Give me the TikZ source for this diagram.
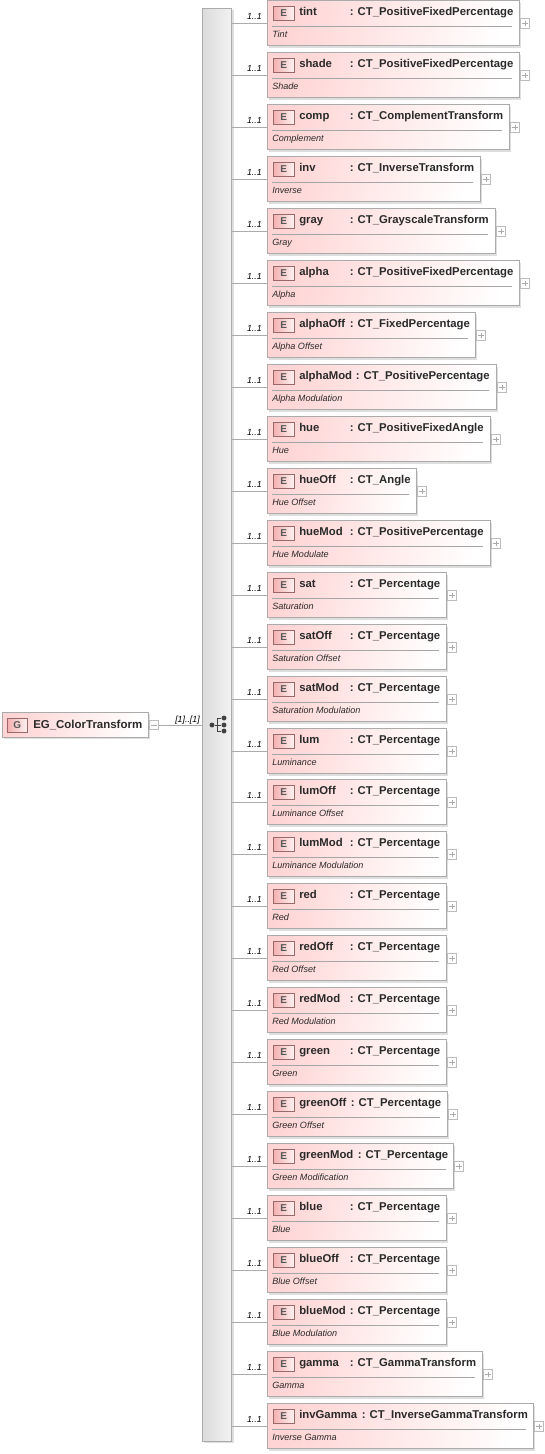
\documentclass[tikz,border=0pt]{standalone}
\usepackage{fontspec}
\setmainfont{Liberation Sans}
\usepackage{tikz}
\usetikzlibrary{calc, positioning}
\definecolor{boxline}{HTML}{ABABAB}
\definecolor{boxpink}{HTML}{FFD4D4}
\definecolor{badgered}{HTML}{F08E8E}
\definecolor{badgeline}{HTML}{9A6A6A}
\definecolor{inktext}{HTML}{2A2A2A}
\tikzset{
  elembox/.style={draw=boxline, line width=0.75pt, left color=boxpink, right color=white, shading angle=78, anchor=north west, inner sep=0pt, minimum height=45*0.75pt},
  shadowbox/.style={fill=black!13, anchor=north west, inner sep=0pt, minimum height=45*0.75pt},
  badge/.style={draw=badgeline, line width=0.6pt, left color=badgered!70, right color=badgered!12!white, anchor=north west, inner sep=0pt, minimum width=15.5pt, minimum height=10pt, font=\fontsize{7.5pt}{8pt}\selectfont\bfseries, text=black!65},
  elemname/.style={anchor=base west, inner sep=0pt, font=\fontsize{8.5pt}{10pt}\selectfont\bfseries, text=inktext},
  elemdoc/.style={anchor=base west, inner sep=0pt, font=\fontsize{6.8pt}{8pt}\selectfont\itshape, text=inktext},
  card/.style={anchor=base east, inner sep=0pt, font=\fontsize{6.6pt}{8pt}\selectfont\itshape, text=black},
  plusbox/.style={draw=boxline!80, fill=white, line width=0.5pt, inner sep=0pt, minimum size=7pt, anchor=west, path picture={
      \draw[boxline, line width=0.4pt] ($(path picture bounding box.north)!0.2!(path picture bounding box.south)$) -- ($(path picture bounding box.north)!0.8!(path picture bounding box.south)$);
      \draw[boxline, line width=0.4pt] ($(path picture bounding box.west)!0.2!(path picture bounding box.east)$) -- ($(path picture bounding box.west)!0.8!(path picture bounding box.east)$);}},
  minusbox/.style={draw=boxline!80, fill=white, line width=0.5pt, inner sep=0pt, minimum size=7pt, anchor=west, path picture={
      \draw[boxline, line width=0.4pt] ($(path picture bounding box.west)!0.2!(path picture bounding box.east)$) -- ($(path picture bounding box.west)!0.8!(path picture bounding box.east)$);}},
  link/.style={draw=boxline, line width=0.6pt},
  seqdot/.style={circle, fill=black!75, inner sep=0pt, minimum size=3.7pt}
}
\begin{document}
\begin{tikzpicture}[x=0.75pt, y=-0.75pt]
  \useasboundingbox (0,0) rectangle (544,1454);

  % spine with the sequence mark
  \fill[black!13] (204,10) rectangle (234,1443);
  \node[draw=boxline, line width=0.75pt, left color=black!14, right color=black!5, anchor=north west, inner sep=0pt, minimum width=22pt, minimum height=1074.75pt] (spine) at (202,8) {};
  \node[seqdot] (seqin) at (212,725) {};
  \node[seqdot] (seqa) at (224,718) {};
  \node[seqdot] (seqb) at (224,725) {};
  \node[seqdot] (seqc) at (224,731) {};
  \coordinate (seqtop) at (217,718);
  \coordinate (seqbot) at (217,731);
  \draw[black!75, line width=0.7pt] (seqin) -- (seqb);
  \draw[black!75, line width=0.7pt] (seqa) -- (seqtop) -- (seqbot) -- (seqc);

  % group on the left
  \node[shadowbox, minimum width=109.5pt, minimum height=18.75pt] (groupshadow) at (4,714) {};
  \node[elembox, minimum width=109.5pt, minimum height=18.75pt] (group) at (2,712) {};
  \node[badge, minimum height=10.5pt] (groupG) at (6.5,718) {G};
  \node[elemname, font=\fontsize{8.6pt}{10pt}\selectfont\bfseries] (groupname) at (33,728) {EG\_ColorTransform};
  \node[minusbox] (groupminus) at (group.east) {};
  \draw[link] (groupminus.east) -- (groupminus.east -| spine.west);
  \node[card, anchor=base east] (groupcard) at (200,722) {[1]..[1]};

  % one row per element
  \foreach \nm/\tp/\dc/\rgt/\colx/\ytop in {
    tint/CT\_PositiveFixedPercentage/Tint/519/350/1,
    shade/CT\_PositiveFixedPercentage/Shade/519/350/53,
    comp/CT\_ComplementTransform/Complement/509/350/105,
    inv/CT\_InverseTransform/Inverse/480/350/157,
    gray/CT\_GrayscaleTransform/Gray/495/350/209,
    alpha/CT\_PositiveFixedPercentage/Alpha/519/350/261,
    alphaOff/CT\_FixedPercentage/Alpha Offset/475/350/313,
    alphaMod/CT\_PositivePercentage/Alpha Modulation/496/356/365,
    hue/CT\_PositiveFixedAngle/Hue/490/350/417,
    hueOff/CT\_Angle/Hue Offset/416/350/469,
    hueMod/CT\_PositivePercentage/Hue Modulate/490/350/521,
    sat/CT\_Percentage/Saturation/446/350/573,
    satOff/CT\_Percentage/Saturation Offset/446/350/625,
    satMod/CT\_Percentage/Saturation Modulation/446/350/677,
    lum/CT\_Percentage/Luminance/446/350/729,
    lumOff/CT\_Percentage/Luminance Offset/446/350/780,
    lumMod/CT\_Percentage/Luminance Modulation/446/350/832,
    red/CT\_Percentage/Red/446/350/884,
    redOff/CT\_Percentage/Red Offset/446/350/936,
    redMod/CT\_Percentage/Red Modulation/446/350/988,
    green/CT\_Percentage/Green/446/350/1040,
    greenOff/CT\_Percentage/Green Offset/447/351/1092,
    greenMod/CT\_Percentage/Green Modification/453/358/1144,
    blue/CT\_Percentage/Blue/446/350/1196,
    blueOff/CT\_Percentage/Blue Offset/446/350/1248,
    blueMod/CT\_Percentage/Blue Modulation/446/350/1300,
    gamma/CT\_GammaTransform/Gamma/482/350/1352,
    invGamma/CT\_InverseGammaTransform/Inverse Gamma/533/362/1404} {
    \pgfmathsetmacro{\boxwd}{(\rgt-267)*0.75}
    \pgfmathsetmacro{\yy}{\ytop-0.7}
    \node[shadowbox, minimum width=\boxwd pt] (\nm shadow) at (269,\yy+2) {};
    \node[elembox, minimum width=\boxwd pt] (\nm) at (267,\yy) {};
    \node[badge] (\nm E) at (273,\yy+6) {E};
    \node[elemname] (\nm name) at (299,\ytop+14.8) {\nm};
    \node[elemname] (\nm type) at (\colx-0.5,\ytop+14.8) {: \tp};
    \node[elemdoc] (\nm doc) at (272,\ytop+36.7) {\dc};
    \coordinate (\nm rulea) at (272,\yy+26);
    \coordinate (\nm ruleb) at (\rgt-7.5,\yy+26);
    \draw[draw=black!35, line width=0.6pt] (\nm rulea) -- (\nm ruleb);
    \node[plusbox] (\nm plus) at (\nm.east) {};
    \draw[link] (\nm.west) -- (\nm.west -| spine.east);
    \node[card] (\nm card) at (262,\ytop+18.5) {1..1};
  }
\end{tikzpicture}
\end{document}
